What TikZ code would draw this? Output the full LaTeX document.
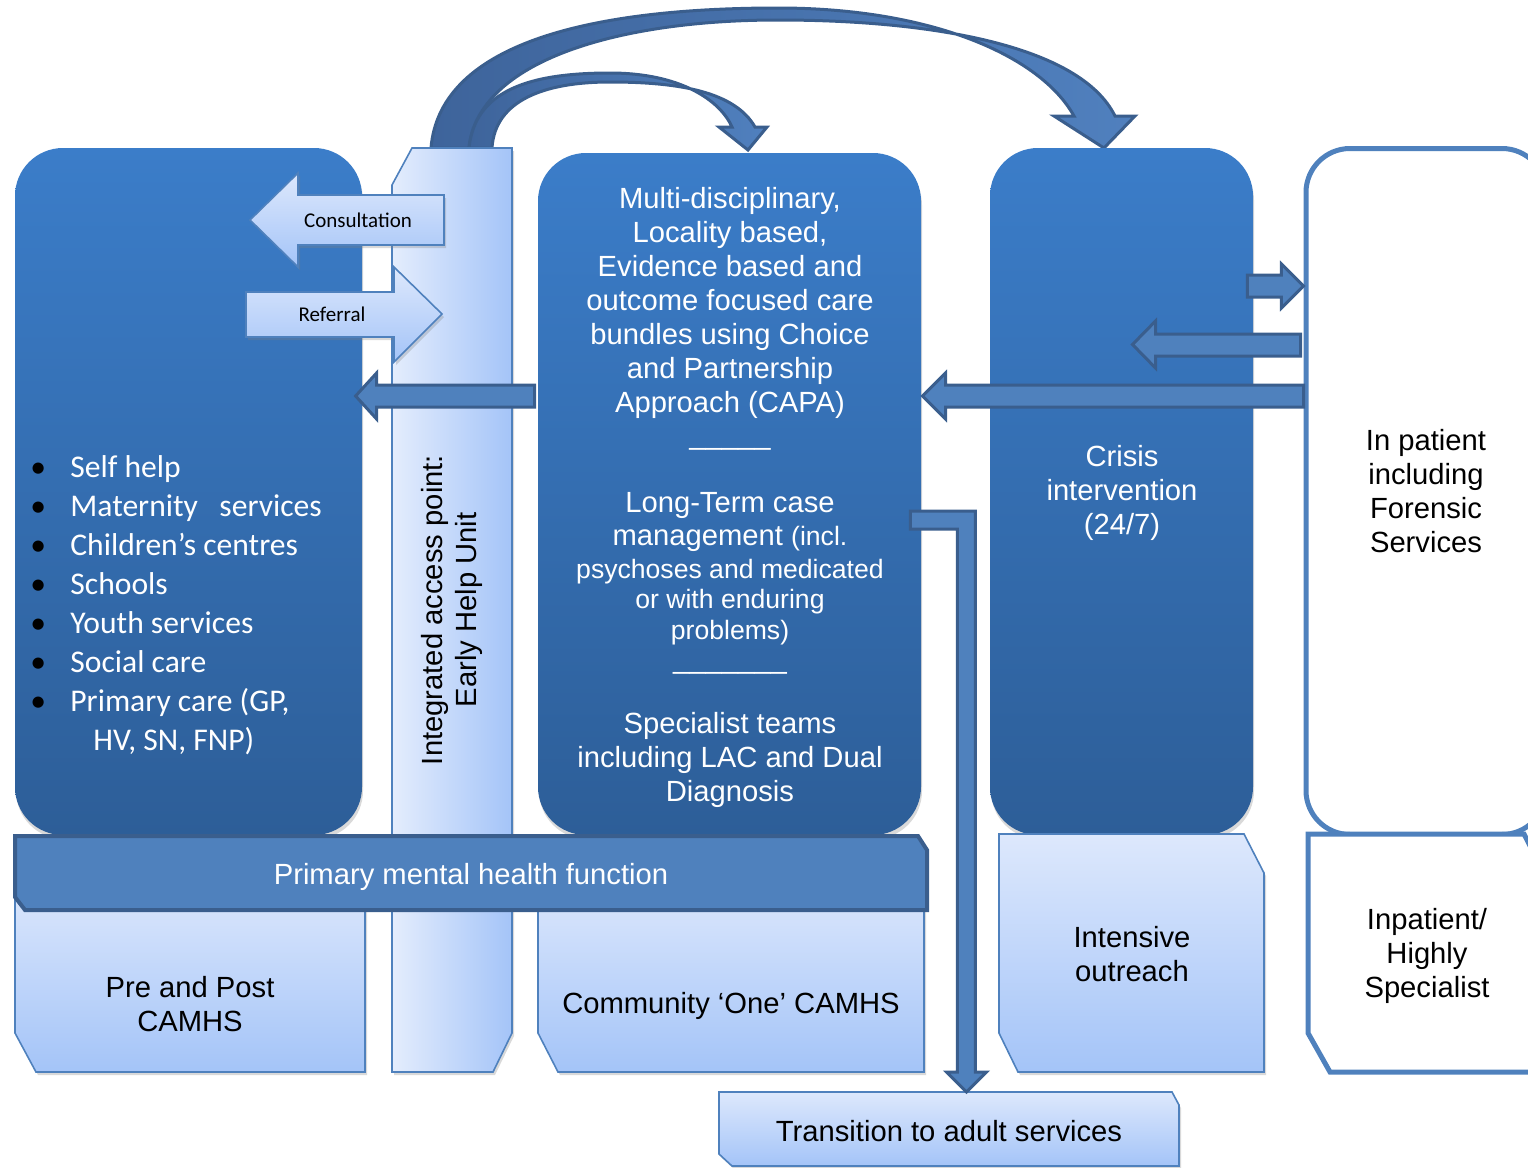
\documentclass[tikz,border=0pt]{standalone}
\usepackage{fontspec}
\setmainfont{Liberation Sans}
\newfontfamily\calibri{Carlito}
\usetikzlibrary{calc, shadows}
\definecolor{camhsTop}{RGB}{59, 125, 201}
\definecolor{camhsBottom}{RGB}{45, 94, 152}
\definecolor{camhsLightTop}{RGB}{221, 232, 252}
\definecolor{camhsLightBottom}{RGB}{164, 196, 248}
\definecolor{camhsEdge}{RGB}{79, 129, 189}
\definecolor{camhsArrow}{RGB}{79, 129, 189}
\definecolor{camhsArrowLine}{RGB}{58, 94, 141}
\definecolor{camhsCurveDark}{RGB}{62, 100, 155}
\definecolor{camhsCurveLight}{RGB}{80, 128, 190}
\newcommand{\listbullet}{\makebox[20pt][l]{\textcolor{black}{\textbullet}}}
\tikzset{
  BoxText/.style    = {align=center, inner sep=0pt,
                       font=\fontsize{14.6pt}{17pt}\selectfont},
  DarkBox/.style    = {rectangle, rounded corners=24pt, draw=none,
                       top color=camhsTop, bottom color=camhsBottom,
                       drop shadow={shadow xshift=.5pt, shadow yshift=-2pt, opacity=.3}},
  WhiteBox/.style   = {draw=camhsEdge, line width=2.5pt, fill=white},
  LightBox/.style   = {draw=camhsEdge, line width=.8pt,
                       top color=camhsLightTop, bottom color=camhsLightBottom,
                       drop shadow={shadow xshift=1pt, shadow yshift=-1.5pt, opacity=.3}},
  ColumnBox/.style  = {LightBox, left color=camhsLightTop!80!white, right color=camhsLightBottom},
  BarBox/.style     = {draw=camhsArrowLine, line width=2pt, fill=camhsArrow},
  FlowArrow/.style  = {draw=camhsArrowLine, line width=1.5pt, fill=camhsArrow},
  CurveArrow/.style = {draw=camhsArrowLine, line width=1.5pt,
                       left color=camhsCurveDark, right color=camhsCurveLight},
  NoteText/.style   = {inner sep=0pt, font=\calibri\fontsize{10.5pt}{12pt}\selectfont},
  ListText/.style   = {align=left, inner sep=0pt, text=white,
                       font=\calibri\fontsize{15.8pt}{19.5pt}\selectfont},
}

\begin{document}
\begin{tikzpicture}[x=0.5pt, y=-0.5pt]
  \useasboundingbox (0,0) rectangle (1528,1168);
  \clip (0,0) rectangle (1528,1168);

  % curved routes out of the access point
  \path[CurveArrow] (431,148) .. controls (440,40) and (600,8) .. (778,8)
    .. controls (930,8) and (1040,55) .. (1074,116) -- (1054,116) -- (1104,148)
    -- (1135,116) -- (1115,116) .. controls (1080,45) and (930,20) .. (778,20)
    .. controls (620,20) and (478,60) .. (469,148) -- cycle;
  \path[CurveArrow] (469,148) .. controls (475,90) and (530,73) .. (610,73)
    .. controls (680,73) and (720,100) .. (732,127) -- (719,127) -- (748,150)
    -- (767,127) -- (755,127) .. controls (735,92) and (680,82) .. (610,82)
    .. controls (545,82) and (495,100) .. (492,148) -- cycle;

  % tiers
  \node[DarkBox, minimum width=173.5pt, minimum height=343.5pt] (universal) at (188.5,491.5) {};
  \node[DarkBox, minimum width=191.5pt, minimum height=341pt] (community) at (729.5,494) {};
  \node[DarkBox, minimum width=131.5pt, minimum height=343.5pt] (crisis) at (1121.5,491.5) {};
  \node[WhiteBox, BoxText, rounded corners=22pt, minimum width=120pt, minimum height=343pt]
    (inpatient) at (1426,491.5) {In patient\\including\\Forensic\\Services};

  % access column and lower boxes
  \path[ColumnBox] (392,185) -- (412,148) -- (512,148) -- (512,1033) -- (493,1072) -- (392,1072) -- cycle;
  \path[LightBox] (15,880) -- (365,880) -- (365,1072) -- (36,1072) -- (15,1033) -- cycle;
  \path[LightBox] (538,880) -- (924,880) -- (924,1072) -- (558,1072) -- (538,1033) -- cycle;
  \path[LightBox] (999,834) -- (1244,834) -- (1264,873) -- (1264,1072) -- (1018,1072) -- (999,1033) -- cycle;
  \path[WhiteBox] (1308,834) -- (1524,834) -- (1544,873) -- (1544,1072) -- (1330,1072) -- (1308,1033) -- cycle;
  \path[LightBox] (719,1092) -- (1172,1092) -- (1179,1105) -- (1179,1166) -- (732,1166) -- (719,1154) -- cycle;
  \path[BarBox] (15,836) -- (918,836) -- (927,850) -- (927,910) -- (25,910) -- (15,897) -- cycle;

  % consultation and referral
  \path[LightBox] (444,195) -- (298,195) -- (298,173) -- (250,220) -- (298,267) -- (298,245) -- (444,245) -- cycle;
  \path[LightBox] (246,292) -- (394,292) -- (394,267) -- (442,314) -- (394,362) -- (394,337) -- (246,337) -- cycle;
  \node[NoteText] (consult) at (358,220) {Consultation};
  \node[NoteText] (referral) at (332,314) {Referral};

  % flows between tiers
  \path[FlowArrow] ($(community.west)+(-3,-109)$) -- ++(-158,0) -- ++(0,-12) -- ++(-21,23)
    -- ++(21,23) -- ++(0,-12) -- ++(158,0) -- cycle;
  \path[FlowArrow] ($(inpatient.west)+(0,-106.5)$) -- ++(-358,0) -- ++(0,-12) -- ++(-23,23)
    -- ++(23,23) -- ++(0,-12) -- ++(358,0) -- cycle;
  \path[FlowArrow] ($(inpatient.west)+(-3,-157.5)$) -- ++(-145,0) -- ++(0,-13) -- ++(-23,23.5)
    -- ++(23,23.5) -- ++(0,-12) -- ++(145,0) -- cycle;
  \path[FlowArrow] ($(crisis.east)+(-6,-216.5)$) -- ++(34,0) -- ++(0,-11) -- ++(22,22)
    -- ++(-22,22) -- ++(0,-11) -- ++(-34,0) -- cycle;
  \path[FlowArrow] ($(community.east)+(-11,17)$) -- ++(65,0) -- ++(0,561) -- ++(11,0)
    -- ++(-20,20) -- ++(-20,-20) -- ++(11,0) -- ++(0,-543) -- ++(-47,0) -- cycle;

  % texts
  \node[ListText, anchor=west] (uniList) at (30,605.5) {%
    \listbullet Self help\\
    \listbullet Maternity~~~services\\
    \listbullet Children’s centres\\
    \listbullet Schools\\
    \listbullet Youth services\\
    \listbullet Social care\\
    \listbullet Primary care (GP,\\
    \hspace*{31.5pt}HV, SN, FNP)};
  \node[BoxText, rotate=90] (ehu) at (452,610) {Integrated access point:\\Early Help Unit};
  \node[BoxText, text=white] (commTop) at (730,303) {Multi-disciplinary,\\Locality based,\\Evidence based and\\outcome focused care\\bundles using Choice\\and Partnership\\Approach (CAPA)};
  \node[BoxText, text=white, anchor=base] (ruleA) at (730,444) {\_\_\_\_\_};
  \node[BoxText, text=white] (commLong) at (730,569) {Long-Term case\\[-0.5pt]management {\fontsize{13.3pt}{15.3pt}\selectfont(incl.}\\[-0.5pt]
    {\fontsize{13.3pt}{15.3pt}\selectfont psychoses and medicated}\\[-2pt]{\fontsize{13.3pt}{15.3pt}\selectfont or with enduring}\\[-1.5pt]{\fontsize{13.3pt}{15.3pt}\selectfont problems)}};
  \node[BoxText, text=white, anchor=base] (ruleB) at (730,668) {\_\_\_\_\_\_\_};
  \node[BoxText, text=white] (commSpec) at (730,760) {Specialist teams\\including LAC and Dual\\Diagnosis};
  \node[BoxText, text=white] (crisisText) at (1122,493) {Crisis\\intervention\\(24/7)};
  \node[BoxText, text=white] (pmhf) at (471,877) {Primary mental health function};
  \node[BoxText] (prepost) at (190,1004) {Pre and Post\\CAMHS};
  \node[BoxText] (commOne) at (731,1006) {Community ‘One’ CAMHS};
  \node[BoxText] (outreach) at (1132,954) {Intensive\\outreach};
  \node[BoxText] (highly) at (1427,955.5) {Inpatient/\\Highly\\Specialist};
  \node[BoxText] (transition) at (949,1131) {Transition to adult services};
\end{tikzpicture}
\end{document}
